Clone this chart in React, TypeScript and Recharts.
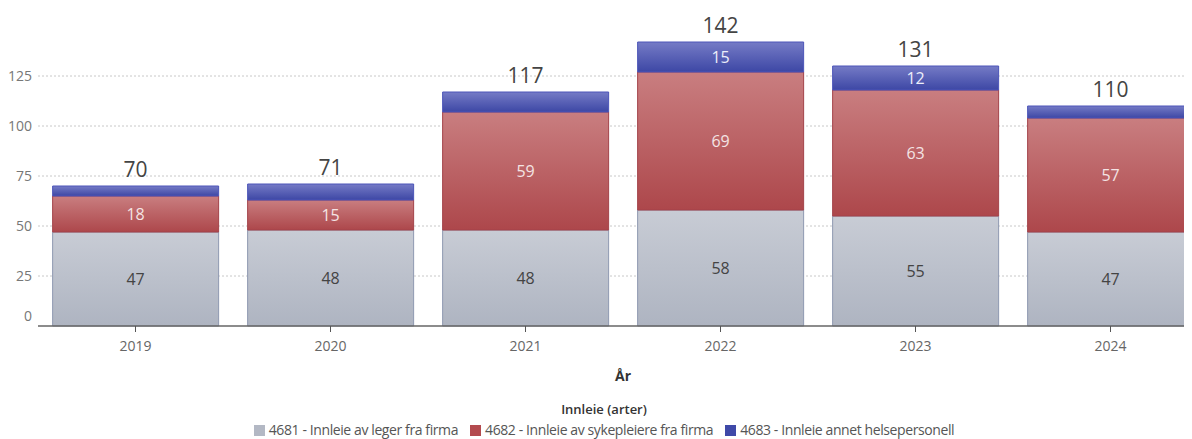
import { BarChart, Bar, XAxis, YAxis, CartesianGrid, Legend, LabelList } from 'recharts'

const years = ['2019', '2020', '2021', '2022', '2023', '2024']
const leger = [47, 48, 48, 58, 55, 47]
const sykepleiere = [18, 15, 59, 69, 63, 57]
const annet = [5, 8, 10, 15, 12, 6]
const totals = [70, 71, 117, 142, 131, 110]
const yTicks = [0, 25, 50, 75, 100, 125]
const yMax = 150

const seriesNames = [
    '4681 - Innleie av leger fra firma',
    '4682 - Innleie av sykepleiere fra firma',
    '4683 - Innleie annet helsepersonell',
]
const swatches = ['#b3b8c4', '#b34a4e', '#3f49a8']

const data = years.map((year, i) => ({
    year,
    leger: leger[i],
    sykepleiere: sykepleiere[i],
    annet: annet[i],
    total: totals[i],
}))

const FONT = '"Open Sans", "Noto Sans", sans-serif'

function YTick(props: any) {
    const { y, payload } = props
    // "0" sits a bit above the base line in the original
    const dy = payload.value === 0 ? -5 : 5
    return (
        <text x={32} y={y + dy} textAnchor="end" fill="#777" fontSize={14} fontFamily={FONT}>
            {payload.value}
        </text>
    )
}

function TotalLabel(props: any) {
    const { x, y, width, index } = props
    return (
        <text x={x + width / 2} y={y - 9} textAnchor="middle" fill="#444" fontSize={21} fontFamily={FONT}>
            {totals[index]}
        </text>
    )
}

function SegmentLabel(color: string, min: number) {
    return (props: any) => {
        const { x, y, width, height, value } = props
        if (value < min) return null
        return (
            <text x={x + width / 2} y={y + height / 2 + 6} textAnchor="middle" fill={color} fontSize={16} fontFamily={FONT}>
                {value}
            </text>
        )
    }
}

// grid lines only at the labelled ticks above zero (no line at the top edge)
function gridRows(args: any) {
    const off = args && args.offset
    if (!off) return []
    return yTicks.slice(1).map(t => off.top + off.height * (1 - t / yMax))
}

function LegendBox() {
    return (
        <div style={{ height: 52, fontFamily: FONT, textAlign: 'center' }}>
            <div style={{ paddingTop: 14, lineHeight: '16px', fontSize: 13, color: '#333', fontWeight: 600 }}>
                Innleie (arter)
            </div>
            <div style={{ marginTop: 5, lineHeight: '16px', fontSize: 14, color: '#555', letterSpacing: -0.4, whiteSpace: 'nowrap' }}>
                {seriesNames.map((name, i) => (
                    <span key={name} style={{ marginRight: i < 2 ? 12 : 0 }}>
                        <span style={{ display: 'inline-block', width: 11, height: 11, background: swatches[i], marginRight: 4, verticalAlign: -1 }} />
                        {name}
                    </span>
                ))}
            </div>
        </div>
    )
}

export default function App() {
    return (
        <div style={{ margin: '-8px 0 0 -8px', width: 1192, height: 439, overflow: 'hidden', background: '#fff' }}>
            <BarChart
                width={1220}
                height={439}
                data={data}
                margin={{ top: 26, right: 12, left: 0, bottom: 0 }}
                barCategoryGap="7.5%"
            >
                <defs>
                    <linearGradient id="gGray" x1="0" y1="0" x2="0" y2="1">
                        <stop offset="0%" stopColor="#c8ccd5" />
                        <stop offset="100%" stopColor="#aeb4c1" />
                    </linearGradient>
                    <linearGradient id="gRed" x1="0" y1="0" x2="0" y2="1">
                        <stop offset="0%" stopColor="#c97e80" />
                        <stop offset="100%" stopColor="#ad474b" />
                    </linearGradient>
                    <linearGradient id="gBlue" x1="0" y1="0" x2="0" y2="1">
                        <stop offset="0%" stopColor="#757bc6" />
                        <stop offset="100%" stopColor="#3d47a5" />
                    </linearGradient>
                </defs>
                <CartesianGrid
                    vertical={false}
                    stroke="#c8c8c8"
                    strokeDasharray="2 2"
                    horizontalCoordinatesGenerator={gridRows}
                />
                <XAxis
                    dataKey="year"
                    height={61}
                    axisLine={{ stroke: '#666', strokeWidth: 1.5 }}
                    tickLine={{ stroke: '#555' }}
                    tickMargin={9}
                    tick={{ fill: '#666', fontSize: 14, fontFamily: FONT }}
                    label={{ value: 'År', position: 'insideBottom', offset: 6, fill: '#333', fontSize: 14, fontWeight: 'bold', fontFamily: FONT }}
                />
                <YAxis
                    width={38}
                    domain={[0, yMax]}
                    ticks={yTicks}
                    axisLine={false}
                    tickLine={false}
                    tick={<YTick />}
                />
                <Legend content={<LegendBox />} verticalAlign="bottom" />
                <Bar dataKey="leger" stackId="a" fill="url(#gGray)" stroke="#8e99b0" isAnimationActive={false}>
                    <LabelList dataKey="leger" content={SegmentLabel('#444', 0)} />
                </Bar>
                <Bar dataKey="sykepleiere" stackId="a" fill="url(#gRed)" stroke="#a3434a" isAnimationActive={false}>
                    <LabelList dataKey="sykepleiere" content={SegmentLabel('#f4e4e4', 0)} />
                </Bar>
                <Bar dataKey="annet" stackId="a" fill="url(#gBlue)" stroke="#4c55b8" isAnimationActive={false}>
                    <LabelList dataKey="annet" content={SegmentLabel('#eceefa', 11)} />
                    <LabelList dataKey="total" content={<TotalLabel />} />
                </Bar>
            </BarChart>
        </div>
    )
}
